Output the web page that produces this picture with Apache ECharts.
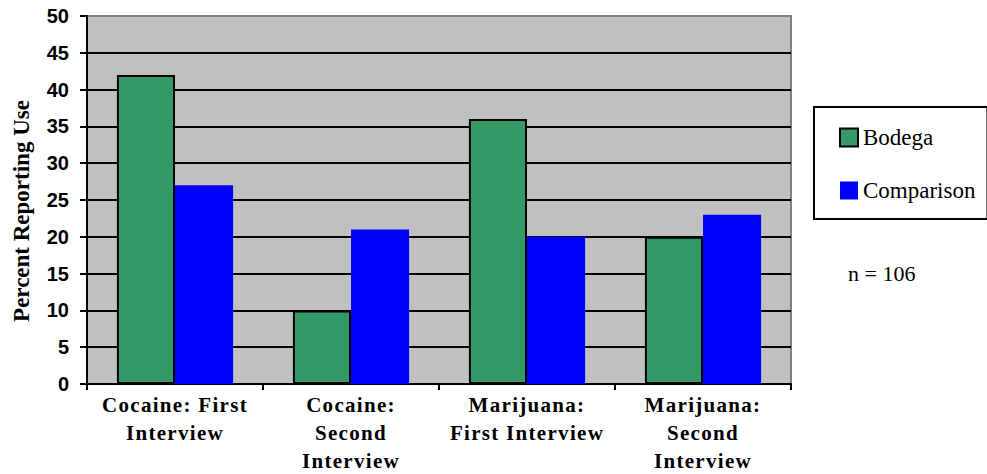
<!DOCTYPE html>
<html>
<head>
<meta charset="utf-8">
<script src="https://cdn.jsdelivr.net/npm/echarts@6/dist/echarts.min.js"></script>
<style>
  html, body { margin: 0; padding: 0; background: #fff; }
  #chart { width: 987px; height: 474px; }
  /* category labels are set in a slightly tracked bold serif */
  #chart text[style*="Times,"] { letter-spacing: 1.3px; }
</style>
</head>
<body>
<div id="chart"></div>
<script>
// Share of respondents reporting drug use, by interview wave
const categories = [
  'Cocaine: First\nInterview',
  'Cocaine:\nSecond\nInterview',
  'Marijuana:\nFirst Interview',
  'Marijuana:\nSecond\nInterview'
];
const bodega = [42, 10, 36, 20];
const comparison = [27, 21, 20, 23];
const yTicks = { min: 0, max: 50, interval: 5 };
const sampleNote = 'n = 106';
const yTitle = 'Percent Reporting Use';

const serif = '"Liberation Serif", "Times New Roman", serif';
const serifTracked = '"Liberation Serif", "Times New Roman", Times, serif';
const sans = '"Liberation Sans", Arial, sans-serif';

const chart = echarts.init(document.getElementById('chart'), null, { renderer: 'svg' });
chart.setOption({
  animation: false,
  backgroundColor: '#ffffff',
  grid: {
    left: 87, top: 16, width: 704, height: 368,
    outerBoundsMode: 'none',
    containLabel: false,
    show: true,
    backgroundColor: '#c0c0c0',
    borderColor: '#808080',
    borderWidth: 2
  },
  legend: {
    orient: 'vertical',
    left: 814, top: 107,
    padding: [19, 12, 17, 25],
    itemGap: 30,
    itemWidth: 18, itemHeight: 18,
    icon: 'rect',
    borderColor: '#000',
    borderWidth: 2,
    backgroundColor: '#fff',
    textStyle: { fontFamily: serif, fontSize: 23, color: '#000' },
    data: ['Bodega', 'Comparison']
  },
  xAxis: {
    type: 'category',
    data: categories,
    axisLine: { lineStyle: { color: '#000', width: 2 } },
    axisTick: { show: true, length: 6, lineStyle: { color: '#000', width: 2 } },
    axisLabel: {
      margin: 7,
      interval: 0,
      fontFamily: serifTracked, fontWeight: 'bold', fontSize: 21,
      lineHeight: 28, color: '#000'
    }
  },
  yAxis: {
    type: 'value',
    min: yTicks.min, max: yTicks.max, interval: yTicks.interval,
    axisLine: { show: true, lineStyle: { color: '#000', width: 2 } },
    axisTick: { show: true, length: 7, lineStyle: { color: '#000', width: 2 } },
    axisLabel: {
      margin: 18,
      fontFamily: sans, fontWeight: 'bold', fontSize: 20, color: '#000'
    },
    splitLine: {
      show: true,
      showMaxLine: false,
      lineStyle: { color: '#000', width: 2 }
    }
  },
  series: [
    {
      name: 'Bodega',
      type: 'bar',
      data: bodega,
      barGap: 0,
      barCategoryGap: '34%',
      itemStyle: { color: '#339966', borderColor: '#000', borderWidth: 2 }
    },
    {
      name: 'Comparison',
      type: 'bar',
      data: comparison,
      barGap: 0,
      barCategoryGap: '34%',
      itemStyle: { color: '#0000ff' }
    }
  ],
  graphic: [
    {
      type: 'text',
      x: 21, y: 211,
      rotation: Math.PI / 2,
      style: {
        text: yTitle,
        fontFamily: serif, fontWeight: 'bold', fontSize: 23,
        fill: '#000', align: 'center', verticalAlign: 'middle'
      }
    },
    {
      type: 'text',
      x: 848, y: 273,
      style: {
        text: sampleNote,
        fontFamily: serif, fontSize: 22,
        fill: '#000', align: 'left', verticalAlign: 'middle'
      }
    }
  ]
});
</script>
</body>
</html>
